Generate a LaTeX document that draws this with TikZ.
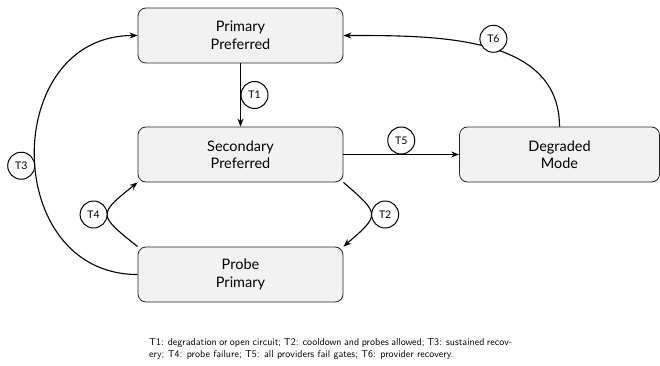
\documentclass[tikz,border=0pt]{standalone}
\usepackage{fontspec}
\newfontfamily\latofont{Lato}
\usetikzlibrary{arrows.meta}
\tikzset{
  statebox/.style={draw=black!85, fill=black!5, rounded corners=8pt, line width=0.8pt,
    minimum width=205pt, minimum height=55pt, align=center, inner sep=0pt,
    font=\latofont\fontsize{14.5}{17.5}\selectfont},
  tlabel/.style={circle, draw=black, fill=white, line width=1pt, minimum size=27pt,
    inner sep=0pt, font=\latofont\fontsize{10.5}{12}\selectfont},
  conn/.style={line width=1.1pt, -{Stealth[length=8pt,width=6pt]}},
}
\begin{document}
\begin{tikzpicture}[x=1pt,y=1pt]
\useasboundingbox (0,0) rectangle (660,-366);
\node[statebox] (pp) at (240.5,-35.5) {Primary\\Preferred};
\node[statebox] (sp) at (240.5,-154.5) {Secondary\\Preferred};
\node[statebox] (pr) at (240.5,-274.5) {Probe\\Primary};
\node[statebox, minimum width=200pt] (dm) at (559.5,-154.5) {Degraded\\Mode};

\draw[conn] (pp) -- node[tlabel, anchor=west] {T1} (sp);
\draw[conn] (sp) -- node[tlabel, anchor=south] {T5} (dm);
\draw[conn] (sp.south east) .. controls +(37,-32) and +(37,32) .. node[tlabel, anchor=west] {T2} (pr.north east);
\draw[conn] (pr.north west) .. controls +(-40,32) and +(-40,-32) .. node[tlabel, anchor=east] {T4} (sp.south west);
\draw[conn] (pr.west) to[out=180, in=180, looseness=1.47] node[tlabel, anchor=east, pos=0.47] {T3} (pp.west);
\draw[conn] (dm.north) to[out=90, in=0] node[tlabel, pos=0.47, yshift=10pt] {T6} (pp.east);

\node[anchor=north west, text width=363pt, align=justify, inner sep=0pt,
  font=\sffamily\fontsize{10}{11.7}\selectfont] (cap) at (149,-338.5)
  {T1: degradation or open circuit; T2: cooldown and probes allowed; T3: sustained recov-\linebreak ery; T4: probe failure; T5: all providers fail gates; T6: provider recovery.};
\end{tikzpicture}
\end{document}
